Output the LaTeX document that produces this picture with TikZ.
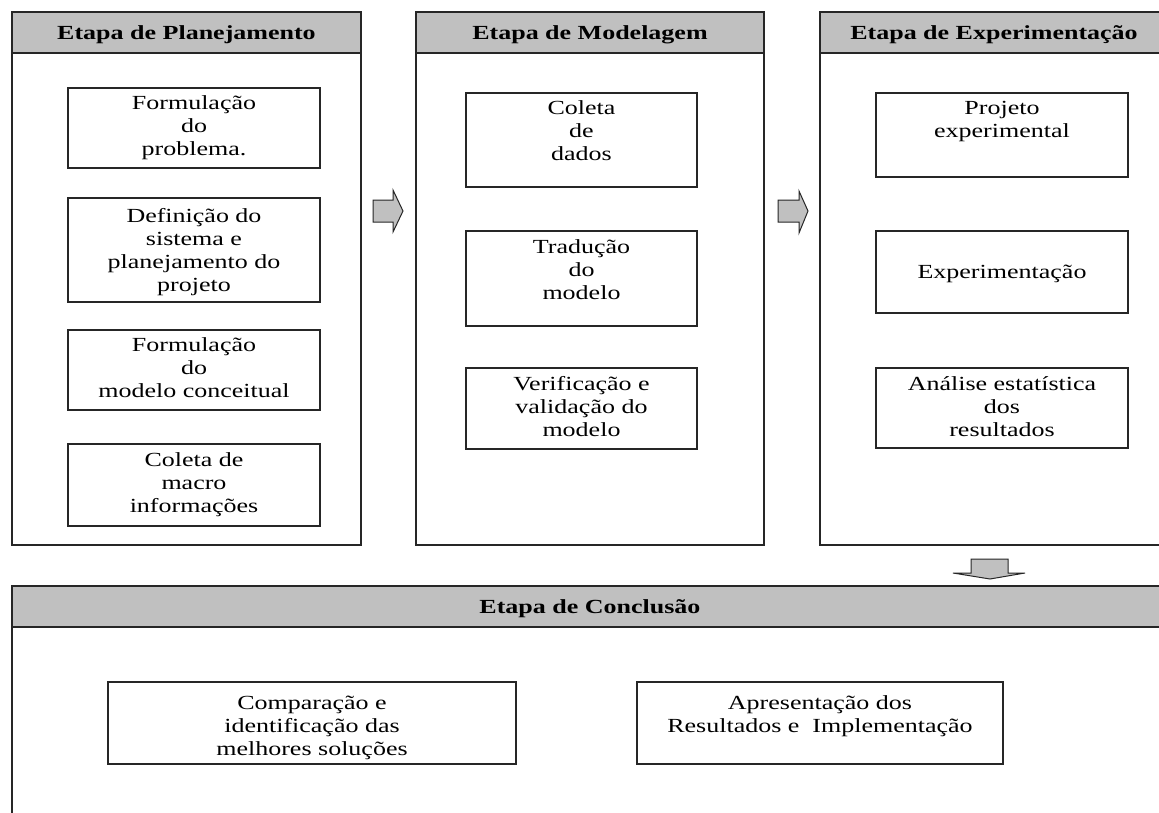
\documentclass[tikz,border=0pt]{standalone}
\usepackage{fontspec}
\setmainfont{Liberation Serif}[FakeStretch=1.3]
\definecolor{hdrgray}{HTML}{C0C0C0}
\definecolor{linec}{HTML}{262626}
\begin{document}
\begin{tikzpicture}[x=1pt,y=-1pt,
  panel/.style={draw=linec, line width=1.6pt},
  headbar/.style={draw=linec, line width=1.6pt, fill=hdrgray},
  box/.style={draw=linec, line width=1.4pt},
  txt/.style={align=center, inner sep=0pt, anchor=base, font=\fontsize{20}{23}\selectfont},
  htxt/.style={inner sep=0pt, anchor=base, font=\bfseries\fontsize{20}{23}\selectfont},
  blockarrow/.style={draw=linec, line width=1pt, fill=hdrgray, line join=miter}]
\useasboundingbox (0,0) rectangle (1159,812);
\clip (0,0) rectangle (1159,812);
% panels
\draw[panel] (12,12) rectangle (361,545);
\draw[headbar] (12,12) rectangle (361,53);
\draw[panel] (416,12) rectangle (764,545);
\draw[headbar] (416,12) rectangle (764,53);
\draw[panel] (820,12) rectangle (1168,545);
\draw[headbar] (820,12) rectangle (1168,53);
\draw[panel] (12,586) rectangle (1168,840);
\draw[headbar] (12,586) rectangle (1168,627);
% headers
\node[htxt] (h1) at (186.5,39) {Etapa de Planejamento};
\node[htxt] (h2) at (590,39) {Etapa de Modelagem};
\node[htxt] (h3) at (994,39) {Etapa de Experimentação};
\node[htxt] (h4) at (590,613) {Etapa de Conclusão};
% panel 1 boxes (node y = baseline of the last line)
\draw[box] (68,88) rectangle (320,168);
\node[txt] (p1a) at (194,155) {Formulação\\do\\problema.};
\draw[box] (68,198) rectangle (320,302);
\node[txt] (p1b) at (194,291) {Definição do\\sistema e\\planejamento do\\projeto};
\draw[box] (68,330) rectangle (320,410);
\node[txt] (p1c) at (194,397) {Formulação\\do\\modelo conceitual};
\draw[box] (68,444) rectangle (320,526);
\node[txt] (p1d) at (194,512) {Coleta de\\macro\\informações};
% panel 2 boxes
\draw[box] (466,93) rectangle (697,187);
\node[txt] (p2a) at (581.5,160) {Coleta\\de\\dados};
\draw[box] (466,231) rectangle (697,326);
\node[txt] (p2b) at (581.5,299) {Tradução\\do\\modelo};
\draw[box] (466,368) rectangle (697,449);
\node[txt] (p2c) at (581.5,436) {Verificação e\\validação do\\modelo};
% panel 3 boxes
\draw[box] (876,93) rectangle (1128,177);
\node[txt] (p3a) at (1002,137) {Projeto\\experimental};
\draw[box] (876,231) rectangle (1128,313);
\node[txt] (p3b) at (1002,278) {Experimentação};
\draw[box] (876,368) rectangle (1128,448);
\node[txt] (p3c) at (1002,436) {Análise estatística\\dos\\resultados};
% conclusion boxes
\draw[box] (108,682) rectangle (516,764);
\node[txt] (p4a) at (312,755) {Comparação e\\identificação das\\melhores soluções};
\draw[box] (637,682) rectangle (1003,764);
\node[txt] (p4b) at (820,732) {Apresentação dos\\Resultados e\ \ Implementação};
% block arrows
\draw[blockarrow] (373,200) -- (393,200) -- (393,190) -- (403,211) -- (393,232) -- (393,222) -- (373,222) -- cycle;
\draw[blockarrow] (778,200) -- (799,200) -- (799,191) -- (808,211) -- (799,233) -- (799,222) -- (778,222) -- cycle;
\draw[blockarrow] (971,559) -- (1008,559) -- (1008,573) -- (1025,573) -- (990,579) -- (953,573) -- (971,573) -- cycle;
\end{tikzpicture}
\end{document}
